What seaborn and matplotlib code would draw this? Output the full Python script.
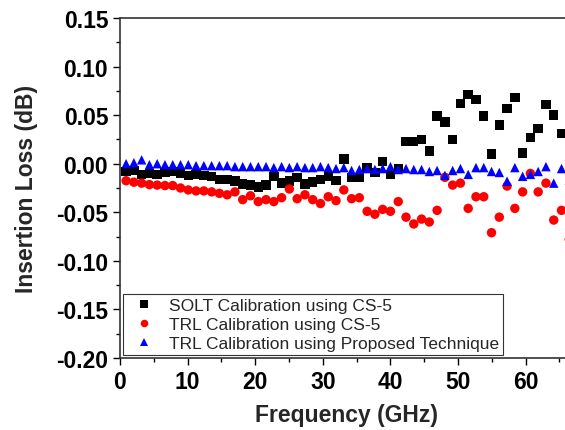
import numpy as np
import pandas as pd
import seaborn as sns
import matplotlib.pyplot as plt
from matplotlib.ticker import MultipleLocator

# Frequency sweep points (GHz)
freq = [0.9, 2.05, 3.2, 4.35, 5.5, 6.65, 7.8, 8.95, 10.1, 11.25, 12.4, 13.55,
        14.7, 15.85, 17.0, 18.15, 19.3, 20.45, 21.6, 22.75, 23.9, 25.05, 26.2,
        27.35, 28.5, 29.65, 30.8, 31.95, 33.1, 34.25, 35.4, 36.55, 37.7, 38.85,
        40.0, 41.15, 42.3, 43.45, 44.6, 45.75, 46.9, 48.05, 49.2, 50.35, 51.5,
        52.65, 53.8, 54.95, 56.1, 57.25, 58.4, 59.55, 60.7, 61.85, 63.0, 64.15,
        65.3, 66.45]

# Insertion loss (dB)
solt_cs5 = [-0.008, -0.007, -0.011, -0.010, -0.011, -0.009, -0.008, -0.010,
            -0.012, -0.011, -0.012, -0.013, -0.016, -0.016, -0.018, -0.021,
            -0.022, -0.024, -0.022, -0.013, -0.020, -0.018, -0.014, -0.021,
            -0.019, -0.016, -0.013, -0.017, 0.005, -0.014, -0.014, -0.004,
            -0.009, 0.002, -0.011, -0.005, 0.023, 0.023, 0.025, 0.013, 0.049,
            0.043, 0.025, 0.062, 0.071, 0.066, 0.049, 0.010, 0.040, 0.057,
            0.068, 0.011, 0.027, 0.036, 0.061, 0.050, 0.031, 0.056]

trl_cs5 = [-0.0175, -0.019, -0.020, -0.0215, -0.022, -0.0225, -0.0225, -0.025,
           -0.027, -0.028, -0.028, -0.029, -0.0305, -0.032, -0.029, -0.037,
           -0.033, -0.039, -0.037, -0.039, -0.035, -0.026, -0.036, -0.032,
           -0.037, -0.041, -0.034, -0.038, -0.027, -0.036, -0.035, -0.049,
           -0.052, -0.047, -0.049, -0.039, -0.055, -0.062, -0.057, -0.060,
           -0.048, -0.014, -0.022, -0.020, -0.046, -0.034, -0.034, -0.071,
           -0.055, -0.023, -0.046, -0.029, -0.010, -0.029, -0.020, -0.058,
           -0.048, -0.078]

trl_proposed = [0.000, 0.001, 0.004, -0.001, 0.000, -0.001, -0.001, -0.001,
                -0.001, -0.002, -0.002, -0.002, -0.002, -0.002, -0.003, -0.003,
                -0.003, -0.003, -0.003, -0.004, -0.003, -0.004, -0.003, -0.004,
                -0.004, -0.003, -0.004, -0.005, -0.004, -0.007, -0.006, -0.005,
                -0.006, -0.005, -0.003, -0.006, -0.005, -0.006, -0.006, -0.008,
                -0.007, -0.012, -0.007, -0.005, -0.011, -0.004, -0.004, -0.008,
                -0.009, -0.018, -0.004, -0.013, -0.011, -0.008, -0.003, -0.020,
                -0.005, -0.017]

labels = ["SOLT Calibration using CS-5",
          "TRL Calibration using CS-5",
          "TRL Calibration using Proposed Technique"]
colors = ["black", "red", "blue"]
markers = ["s", "o", "^"]

df = pd.DataFrame({"freq": freq, labels[0]: solt_cs5,
                   labels[1]: trl_cs5, labels[2]: trl_proposed})
long_df = df.melt(id_vars="freq", var_name="series", value_name="loss")

sns.set_style("ticks")
plt.rcParams['font.family'] = ['Liberation Sans', 'DejaVu Sans']

fig = plt.figure(figsize=(5.65, 4.31), dpi=100)
ax = fig.add_axes([120 / 565, 72 / 431, 453 / 565, 340 / 431])

sns.scatterplot(data=long_df, x="freq", y="loss", hue="series", style="series",
                hue_order=labels, style_order=labels, palette=colors,
                markers=markers, s=46, linewidth=0, ax=ax, legend=True)

ax.set_xlim(0, 67)
ax.set_ylim(-0.20, 0.15)
ax.xaxis.set_major_locator(MultipleLocator(10))
ax.xaxis.set_minor_locator(MultipleLocator(5))
ax.yaxis.set_major_locator(MultipleLocator(0.05))
ax.yaxis.set_minor_locator(MultipleLocator(0.025))
ax.yaxis.set_major_formatter(plt.FuncFormatter(lambda v, p: f"{v:.2f}"))

ax.tick_params(which="major", direction="out", length=5, width=1, colors="black",
               labelsize=16.5)
ax.tick_params(which="minor", direction="out", length=3, width=1, colors="black")
for lab in ax.get_xticklabels() + ax.get_yticklabels():
    lab.set_fontweight("bold")

for side in ["left", "bottom", "top", "right"]:
    ax.spines[side].set_visible(True)
    ax.spines[side].set_color("#333333")
    ax.spines[side].set_linewidth(1.2)

ax.set_xlabel("Frequency (GHz)", fontsize=16.5, fontweight="bold", labelpad=7)
ax.set_ylabel("Insertion Loss (dB)", fontsize=16.5, fontweight="bold", labelpad=13)

handles, _ = ax.get_legend_handles_labels()
leg = ax.legend(handles=handles[-3:], labels=labels, loc="lower left",
                bbox_to_anchor=(0.006, 0.009), borderaxespad=0, frameon=True,
                fancybox=False, edgecolor="black", fontsize=12.5,
                handletextpad=0.4, labelspacing=0.2, borderpad=0.25,
                markerscale=0.8)
leg.get_frame().set_linewidth(0.8)

plt.savefig("out.png", dpi=100)
plt.close()
